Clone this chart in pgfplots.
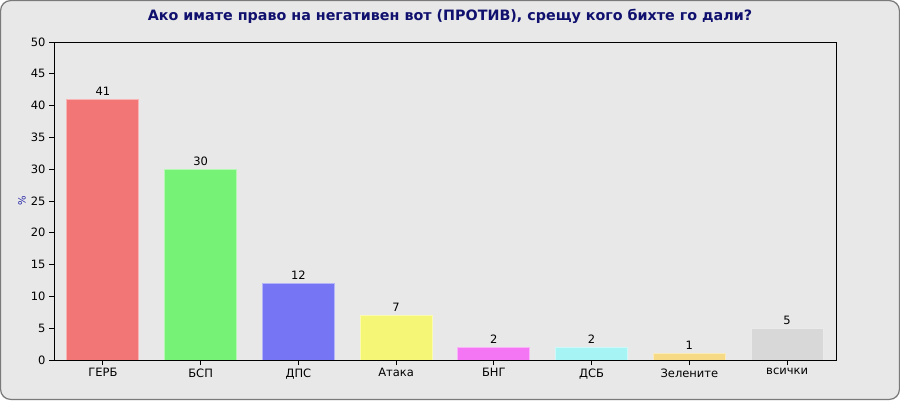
\documentclass[border=0pt]{standalone}
\usepackage{pgfplots}
\pgfplotsset{compat=1.18}
\usepackage{fontspec}
\setmainfont{DejaVu Sans}

\definecolor{bgc}{HTML}{E8E8E8}
\definecolor{framec}{HTML}{7A7A7A}
\definecolor{titlec}{HTML}{10106E}
\definecolor{ylabc}{HTML}{2424A8}
\definecolor{cgerb}{HTML}{F27676}
\definecolor{cbsp}{HTML}{76F276}
\definecolor{cdps}{HTML}{7676F4}
\definecolor{cataka}{HTML}{F6F676}
\definecolor{cbng}{HTML}{F476F4}
\definecolor{cdsb}{HTML}{A6F4F4}
\definecolor{czel}{HTML}{F6DA86}
\definecolor{call}{HTML}{D8D8D8}

\pgfplotsset{
  mybar/.style={ybar, bar width=72pt, bar shift=0pt,
    fill=#1, draw=#1!55!white, line width=1pt},
}

\begin{document}
\begin{tikzpicture}
\useasboundingbox (0pt,0pt) rectangle (900pt,400pt);
\fill[bgc, rounded corners=10pt] (0pt,0pt) rectangle (900pt,400pt);
\draw[framec, line width=1.2pt, rounded corners=10pt] (0.6pt,0.6pt) rectangle (899.4pt,399.4pt);
\node[font=\bfseries\fontsize{14.3}{16}\selectfont, text=titlec] at (450pt,384pt)
  {Ако имате право на негативен вот (ПРОТИВ), срещу кого бихте го дали?};
\begin{axis}[
  at={(54pt,40pt)}, anchor=south west,
  scale only axis, width=782pt, height=318pt,
  xmin=-0.5, xmax=7.5, ymin=0, ymax=50,
  ytick={0,5,...,50},
  xtick={0,...,7},
  xticklabels={ГЕРБ,БСП,ДПС,Атака,БНГ,ДСБ,Зелените,всички},
  tick align=outside, xtick pos=bottom, ytick pos=left,
  major tick length=5pt,
  tick style={black, line width=0.8pt},
  axis line style={black, line width=0.8pt},
  axis on top,
  /pgf/number format/assume math mode=true,
  every tick label/.append style={font=\fontsize{11.5}{13}\selectfont, text=black},
  ylabel={\%},
  every axis y label/.style={at={(axis description cs:0,0.5)}, xshift=-32pt,
    rotate=90, anchor=center, font=\fontsize{10}{12}\selectfont, text=ylabc},
  nodes near coords,
  every node near coord/.append style={font=\fontsize{11.5}{13}\selectfont, text=black},
]
\addplot[mybar=cgerb] coordinates {(0,41)};
\addplot[mybar=cbsp] coordinates {(1,30)};
\addplot[mybar=cdps] coordinates {(2,12)};
\addplot[mybar=cataka] coordinates {(3,7)};
\addplot[mybar=cbng] coordinates {(4,2)};
\addplot[mybar=cdsb] coordinates {(5,2)};
\addplot[mybar=czel] coordinates {(6,1)};
\addplot[mybar=call] coordinates {(7,5)};
\end{axis}
\end{tikzpicture}
\end{document}
